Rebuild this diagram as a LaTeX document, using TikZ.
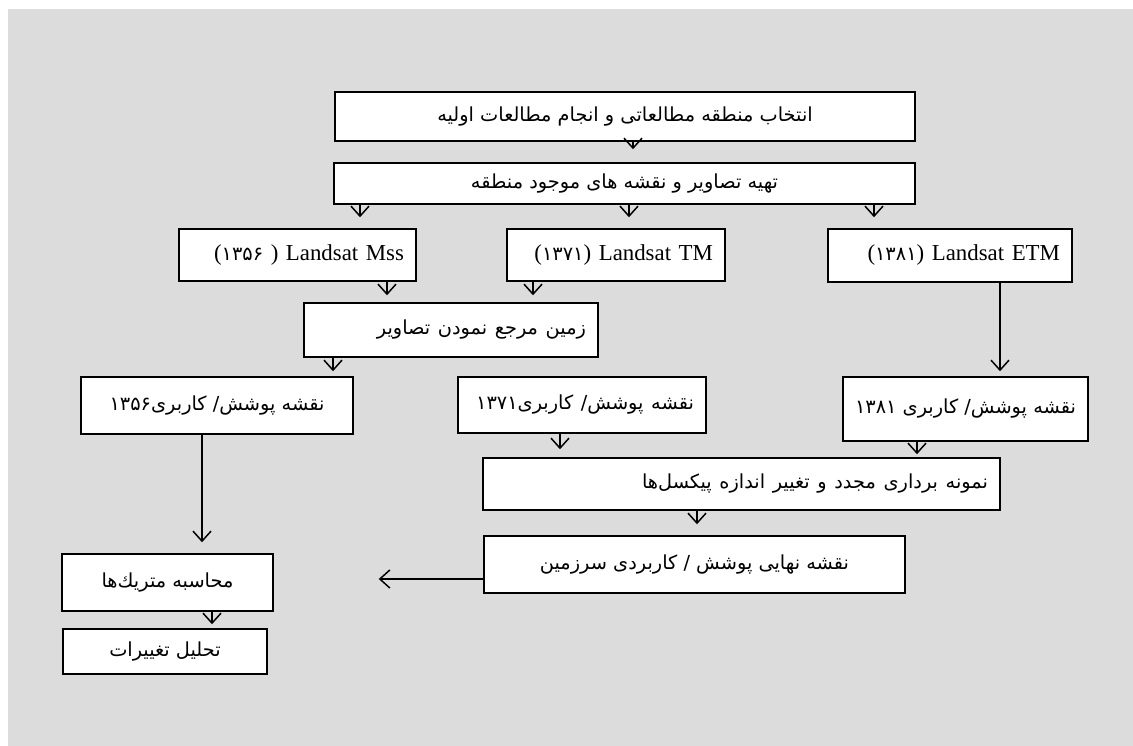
\documentclass[tikz,border=0pt]{standalone}
\usepackage{fontspec}
\setmainfont{Liberation Serif}
\newfontfamily\fafont[Script=Arabic]{DejaVu Sans}
\usetikzlibrary{arrows.meta}
\TeXXeTstate=1

\definecolor{panel}{HTML}{DCDCDC}
\newcommand{\fatext}[1]{{\fafont\fontsize{11}{13}\selectfont\beginR #1\endR}}
\newcommand{\fadigits}[1]{{\fafont\fontsize{11}{13}\selectfont #1}}

\begin{document}
\begin{tikzpicture}[x=0.02cm, y=-0.02cm,
    stage/.style={draw, line width=0.85pt, fill=white, inner xsep=0.24cm, inner ysep=0pt,
      font=\fontsize{13}{15}\selectfont},
    flow/.style={line width=0.85pt, -{Straight Barb[length=0.2cm, width=0.36cm]}}]
    % page and grey panel
    \useasboundingbox (0,0) rectangle (1133,746);
    \fill [panel] (8,9) rectangle (1133,746);

    % columns of the arrows
    \coordinate (xstudy) at (633,0);
    \coordinate (xmss) at (360,0);
    \coordinate (xtm) at (629,0);
    \coordinate (xetm) at (874,0);
    \coordinate (xgeoa) at (387,0);
    \coordinate (xgeob) at (533,0);
    \coordinate (xlcmss) at (333,0);
    \coordinate (xlong) at (1000,0);
    \coordinate (xlctm) at (560,0);
    \coordinate (xlcetm) at (917,0);
    \coordinate (xfinal) at (697,0);
    \coordinate (xmetric) at (202,0);
    \coordinate (xchange) at (212,0);
    \coordinate (yback) at (0,579);

    % boxes
    \node [stage, minimum width=11.6cm, minimum height=0.98cm] (study) at (625,116.5)
        {\fatext{انتخاب منطقه مطالعاتی و انجام مطالعات اولیه}};
    \node [stage, minimum width=11.62cm, minimum height=0.82cm] (maps) at (624.5,183.5)
        {\fatext{تهیه تصاویر و نقشه های موجود منطقه}};
    \node [stage, text width=4.26cm, align=right, minimum height=1.04cm] (mss) at (297.5,255)
        {(\fadigits{۱۳۵۶} ) Landsat Mss};
    \node [stage, text width=3.88cm, align=right, minimum height=1.04cm] (tm) at (616,255)
        {(\fadigits{۱۳۷۱}) Landsat TM};
    \node [stage, text width=4.40cm, align=right, minimum height=1.06cm] (etm) at (950,255.5)
        {(\fadigits{۱۳۸۱}) Landsat ETM};
    \node [stage, text width=5.40cm, align=right, minimum height=1.08cm] (georef) at (451,330)
        {\fatext{زمین مرجع نمودن تصاویر}};
    \node [stage, minimum width=5.44cm, minimum height=1.14cm] (lcmss) at (217,405.5)
        {\fatext{نقشه پوشش/ کاربری\beginL۱۳۵۶\endL}};
    \node [stage, text width=4.48cm, align=right, minimum height=1.12cm] (lctm) at (582,405)
        {\fatext{نقشه پوشش/ کاربری\beginL۱۳۷۱\endL}};
    \node [stage, inner xsep=0pt, minimum width=4.9cm, minimum height=1.28cm] (lcetm) at (965.5,409)
        {\fatext{نقشه پوشش/ کاربری \beginL۱۳۸۱\endL}};
    \node [stage, text width=9.86cm, align=right, minimum height=1.04cm] (resample) at (741.5,484)
        {\fatext{نمونه برداری مجدد و تغییر اندازه پیکسل^^^^200cها}};
    \node [stage, minimum width=8.42cm, minimum height=1.14cm] (final) at (694.5,564.5)
        {\fatext{نقشه نهایی پوشش / کاربردی سرزمین}};
    \node [stage, minimum width=4.22cm, minimum height=1.14cm] (metric) at (167.5,582.5)
        {\fatext{محاسبه متریك^^^^200cها}};
    \node [stage, minimum width=4.08cm, minimum height=0.9cm] (change) at (165,651.5)
        {\fatext{تحلیل تغییرات}};

    % arrows
    \draw [flow, shorten >=0.26cm] (study.south -| xstudy) -- (maps.north -| xstudy);
    \draw [flow, shorten >=0.22cm] (maps.south -| xmss) -- (mss.north -| xmss);
    \draw [flow, shorten >=0.22cm] (maps.south -| xtm) -- (tm.north -| xtm);
    \draw [flow, shorten >=0.22cm] (maps.south -| xetm) -- (etm.north -| xetm);
    \draw [flow, shorten >=0.14cm] (mss.south -| xgeoa) -- (georef.north -| xgeoa);
    \draw [flow, shorten >=0.14cm] (tm.south -| xgeob) -- (georef.north -| xgeob);
    \draw [flow, shorten >=0.1cm] (georef.south -| xlcmss) -- (lcmss.north -| xlcmss);
    \draw [flow, shorten >=0.1cm] (etm.south -| xlong) -- (lcetm.north -| xlong);
    \draw [flow, shorten >=0.16cm] (lctm.south -| xlctm) -- (resample.north -| xlctm);
    \draw [flow, shorten >=0.06cm] (lcetm.south -| xlcetm) -- (resample.north -| xlcetm);
    \draw [flow, shorten >=0.22cm] (resample.south -| xfinal) -- (final.north -| xfinal);
    \draw [flow, shorten >=2.1cm] (final.west |- yback) -- (metric.east |- yback);
    \draw [flow, shorten >=0.22cm] (lcmss.south -| xmetric) -- (metric.north -| xmetric);
    \draw [flow, shorten >=0.08cm] (metric.south -| xchange) -- (change.north -| xchange);
\end{tikzpicture}
\end{document}
